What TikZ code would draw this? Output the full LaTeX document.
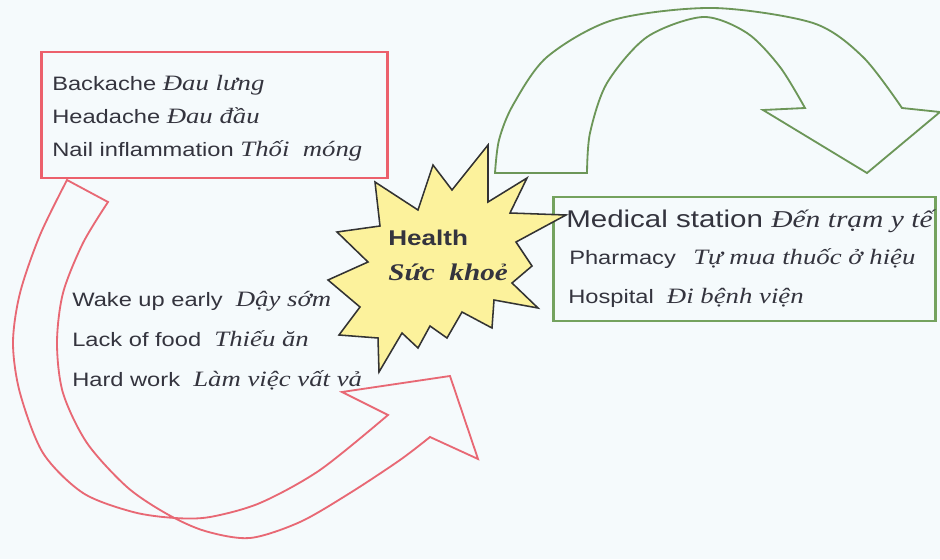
\documentclass[tikz,border=0pt]{standalone}
\usepackage{fontspec}
\setmainfont{Liberation Serif}[FakeStretch=1.22]
\setsansfont{Liberation Sans}[FakeStretch=1.22]
\definecolor{paper}{RGB}{245,250,252}
\definecolor{boxred}{RGB}{236,96,108}
\definecolor{arrowred}{RGB}{232,104,116}
\definecolor{boxgreen}{RGB}{116,162,94}
\definecolor{arrowgreen}{RGB}{108,150,88}
\definecolor{burst}{RGB}{252,242,156}
\definecolor{ink}{RGB}{52,52,62}
\newcommand{\vi}[1]{{\rmfamily\itshape\fontsize{15.6}{18}\selectfont #1}}
\newcommand{\bigline}[1]{\fontsize{17.2}{20}\selectfont #1}

\begin{document}
\begin{tikzpicture}[x=0.025cm,y=-0.025cm,font=\sffamily\fontsize{13.8}{16}\selectfont,
    line/.style={anchor=base west,inner sep=0pt,text=ink},
    redbox/.style={draw=boxred,line width=2.1pt,inner sep=0pt},
    greenbox/.style={draw=boxgreen,line width=2.1pt,inner sep=0pt}]
    \fill[paper] (0,0) rectangle (940,559);
    \useasboundingbox (0,0) rectangle (940,559);

    % curved arrow over the top
    \draw[arrowgreen,line width=1.3pt,fill=paper,line join=miter]
        plot[smooth] coordinates {(495,173) (499,140) (513,105) (547,57) (613,20) (713,8) (813,23) (863,57) (902,108)}
        -- (940,112) -- (867,173) -- (763,110) -- (805,108)
        -- plot[smooth] coordinates {(805,108) (780,67) (747,33) (703,17) (647,37) (607,83) (590,133) (587,173)}
        -- cycle;

    % curved arrow round the left
    \draw[arrowred,line width=1.3pt,line join=miter]
        plot[smooth] coordinates {(67,180) (40,235) (20,293) (13,343) (20,393) (43,453) (83,493) (133,512) (175,518) (210,517) (260,503) (320,470) (388,415)}
        -- (342,392) -- (450,376) -- (478,459) -- (430,437)
        -- plot[smooth] coordinates {(430,437) (400,460) (350,493) (300,522) (250,538) (205,531) (167,514) (127,487) (87,443) (63,393) (57,343) (63,293) (83,243) (108,202)}
        -- cycle;

    \node[redbox,minimum width=8.625cm,minimum height=3.15cm] (causes) at (214.5,115) {};
    \node[greenbox,minimum width=9.525cm,minimum height=3.1cm] (care) at (744.5,259) {};

    % the burst in the middle
    \draw[fill=burst,draw=black!80,line width=1.1pt,line join=miter]
        (488,145) -- (488,202) -- (527,178) -- (510,213) -- (566,215) -- (516,242)
        -- (532,266) -- (512,283) -- (538,308) -- (494,300) -- (492,328) -- (462,312)
        -- (447,338) -- (430,326) -- (418,348) -- (402,333) -- (379,372) -- (378,338)
        -- (339,335) -- (360,307) -- (328,280) -- (368,262) -- (337,232) -- (380,226)
        -- (375,182) -- (418,210) -- (433,165) -- (452,190) -- cycle;

    \node[line,font=\sffamily\bfseries\fontsize{15.2}{18}\selectfont] (health) at (388,245) {Health};
    \node[line,font=\rmfamily\bfseries\itshape\fontsize{17}{20}\selectfont] (suckhoe) at (388,280) {Sức\ \ khoẻ};

    \node[line] (backache) at (52,90) {Backache \vi{Đau lưng}};
    \node[line] (headache) at (52,123) {Headache \vi{Đau đầu}};
    \node[line] (nail) at (52,156) {Nail inflammation \vi{Thối\ \ móng}};

    \node[line] (wake) at (72,306) {Wake up early\ \ \vi{Dậy sớm}};
    \node[line] (food) at (72,346) {Lack of food\ \ \vi{Thiếu ăn}};
    \node[line] (work) at (72,386) {Hard work\ \ \vi{Làm việc vất vả}};

    \node[line] (station) at (566,227) {\bigline{Medical station {\rmfamily\itshape Đến trạm y tế}}};
    \node[line] (pharmacy) at (569,264) {Pharmacy\hspace{0.9em}\vi{Tự mua thuốc ở hiệu}};
    \node[line] (hospital) at (568,303) {Hospital\ \ \vi{Đi bệnh viện}};
\end{tikzpicture}
\end{document}
